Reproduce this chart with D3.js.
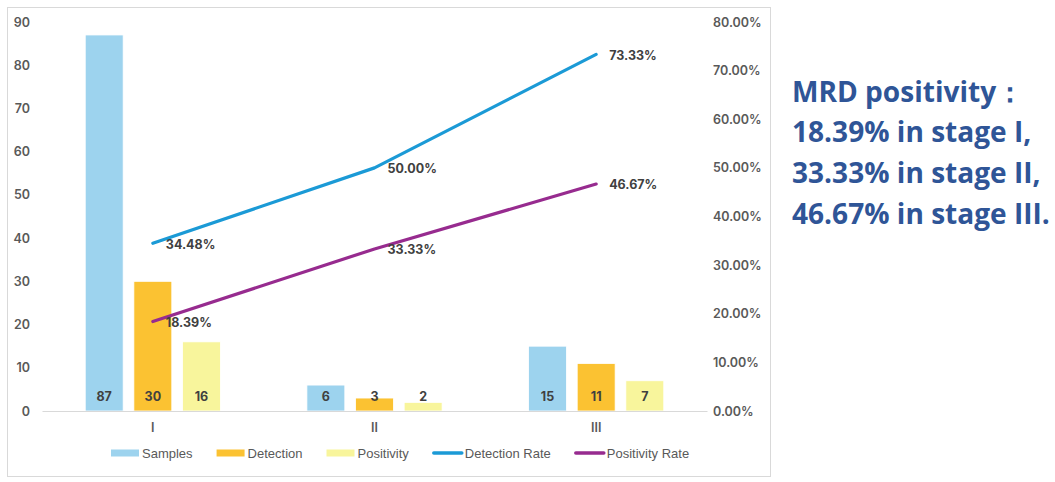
<!DOCTYPE html>
<html>
<head>
<meta charset="utf-8">
<script src="https://cdn.jsdelivr.net/npm/d3@7"></script>
<style>
  html, body { margin: 0; padding: 0; background: #ffffff; }
  svg { display: block; }
</style>
</head>
<body>
<svg id="chart" width="1055" height="482"></svg>
<script>
// ---- Data ----
const categories = ["I", "II", "III"];
const barSeries = ["Samples", "Detection", "Positivity"];
const samples = [87, 6, 15];
const detection = [30, 3, 11];
const positivity = [16, 2, 7];
const detectionRate = [0.3448, 0.5000, 0.7333];
const positivityRate = [0.1839, 0.3333, 0.4667];
const leftTicks = [0, 10, 20, 30, 40, 50, 60, 70, 80, 90];
const rightTicks = [0, 0.1, 0.2, 0.3, 0.4, 0.5, 0.6, 0.7, 0.8];
const noteLines = ["MRD positivity：", "18.39% in stage I,", "33.33% in stage II,", "46.67% in stage III."];

// ---- Styles ----
const barColors = { Samples: "#9DD3EE", Detection: "#FBC232", Positivity: "#F8F59C" };
const lineColors = { "Detection Rate": "#1B9AD6", "Positivity Rate": "#972B8F" };
const axisColor = "#595959";
const labelColor = "#404040";
const font = "Inter, 'Liberation Sans', Arial, sans-serif";
const legendFont = "'Liberation Sans', Arial, sans-serif";

const svg = d3.select("#chart");

// chart frame
svg.append("rect").attr("x", 7.5).attr("y", 7.5).attr("width", 763).attr("height", 469)
  .attr("fill", "#fff").attr("stroke", "#D9D9D9").attr("stroke-width", 1);

// scales
const x = d3.scaleBand().domain(categories).range([42, 707]);
const bw = x.bandwidth();
const xs = d3.scaleBand().domain(barSeries).range([bw * 0.195, bw * 0.805]).paddingInner(0.22);
const yL = d3.scaleLinear().domain([0, 90]).range([411, 22]);
const yR = d3.scaleLinear().domain([0, 0.8]).range([411, 22]);

// left axis
const leftAxis = d3.axisLeft(yL).tickValues(leftTicks).tickSize(0).tickPadding(0).tickFormat(d3.format("d"));
const gl = svg.append("g").attr("transform", "translate(30,0)").call(leftAxis);
gl.select(".domain").remove();
gl.selectAll("text").attr("font-family", font).attr("font-size", 12.5).attr("font-weight", 600)
  .attr("fill", axisColor).attr("text-anchor", "end");

// right axis
const rightAxis = d3.axisRight(yR).tickValues(rightTicks).tickSize(0).tickPadding(0).tickFormat(d3.format(".2%"));
const gr = svg.append("g").attr("transform", "translate(713,0)").call(rightAxis);
gr.select(".domain").remove();
gr.selectAll("text").attr("font-family", font).attr("font-size", 12.5).attr("font-weight", 600)
  .attr("fill", axisColor).attr("text-anchor", "start");

// bars
const barData = [];
categories.forEach((c, i) => {
  barData.push({ cat: c, s: "Samples", v: samples[i] });
  barData.push({ cat: c, s: "Detection", v: detection[i] });
  barData.push({ cat: c, s: "Positivity", v: positivity[i] });
});
svg.append("g").selectAll("rect").data(barData).join("rect")
  .attr("x", d => x(d.cat) + xs(d.s))
  .attr("y", d => yL(d.v))
  .attr("width", xs.bandwidth())
  .attr("height", d => yL(0) - yL(d.v))
  .attr("fill", d => barColors[d.s])
  .attr("stroke", "#ffffff").attr("stroke-width", 0.8);

// x axis line
const xAxis = d3.axisBottom(x).tickSize(0).tickPadding(12);
const gx = svg.append("g").attr("transform", "translate(0,411)").call(xAxis);
gx.select(".domain").attr("stroke", "#D9D9D9").attr("stroke-width", 1.2);
gx.selectAll("text").attr("font-family", font).attr("font-size", 12.5).attr("font-weight", 600)
  .attr("fill", axisColor);

// bar value labels
svg.append("g").selectAll("text").data(barData).join("text")
  .attr("x", d => x(d.cat) + xs(d.s) + xs.bandwidth() / 2)
  .attr("y", 397)
  .attr("dy", "0.35em")
  .attr("text-anchor", "middle")
  .attr("font-family", font).attr("font-size", 12.5).attr("font-weight", 700)
  .attr("fill", labelColor)
  .text(d => d.v);

// lines
const lineData = [
  { name: "Detection Rate", vals: detectionRate },
  { name: "Positivity Rate", vals: positivityRate }
];
const line = d3.line()
  .x((d, i) => x(categories[i]) + bw / 2)
  .y(d => yR(d))
  .curve(d3.curveLinear);
svg.append("g").selectAll("path").data(lineData).join("path")
  .attr("d", d => line(d.vals))
  .attr("fill", "none")
  .attr("stroke", d => lineColors[d.name])
  .attr("stroke-width", 3.2)
  .attr("stroke-linejoin", "round")
  .attr("stroke-linecap", "round");

// line labels
lineData.forEach(ld => {
  svg.append("g").selectAll("text").data(ld.vals).join("text")
    .attr("x", (d, i) => x(categories[i]) + bw / 2 + 13)
    .attr("y", d => yR(d) + 1)
    .attr("dy", "0.35em")
    .attr("font-family", font).attr("font-size", 12.5).attr("font-weight", 700)
    .attr("fill", labelColor)
    .text(d => d3.format(".2%")(d));
});

// legend
const legendItems = [
  { name: "Samples", type: "bar", color: barColors.Samples },
  { name: "Detection", type: "bar", color: barColors.Detection },
  { name: "Positivity", type: "bar", color: barColors.Positivity },
  { name: "Detection Rate", type: "line", color: lineColors["Detection Rate"] },
  { name: "Positivity Rate", type: "line", color: lineColors["Positivity Rate"] }
];
const lg = svg.append("g");
let lx = 111;
const ly = 453;
legendItems.forEach(it => {
  if (it.type === "bar") {
    lg.append("rect").attr("x", lx).attr("y", ly - 3.5).attr("width", 28).attr("height", 7).attr("fill", it.color);
    lx += 31;
  } else {
    lg.append("line").attr("x1", lx + 1).attr("x2", lx + 29).attr("y1", ly).attr("y2", ly)
      .attr("stroke", it.color).attr("stroke-width", 3.5).attr("stroke-linecap", "round");
    lx += 32;
  }
  const t = lg.append("text").attr("x", lx).attr("y", ly).attr("dy", "0.35em")
    .attr("font-family", legendFont).attr("font-size", 13).attr("font-weight", 400)
    .attr("fill", axisColor).text(it.name);
  lx += t.node().getComputedTextLength() + 24;
});

// annotation text on the right
const noteFont = "'Open Sans', 'Noto Sans', sans-serif";
const baselines = [102, 142, 183, 224];
const ng = svg.append("g");
const noteTexts = noteLines.map((s, i) => ng.append("text")
  .attr("x", 792).attr("y", baselines[i])
  .attr("font-family", noteFont).attr("font-size", 28).attr("font-weight", 700)
  .attr("fill", "#2F5597").text(s));
// fit longest line to ~258px
const widest = d3.max(noteTexts, t => t.node().getComputedTextLength());
const fs = 28 * 258 / widest;
noteTexts.forEach(t => t.attr("font-size", fs));
</script>
</body>
</html>
